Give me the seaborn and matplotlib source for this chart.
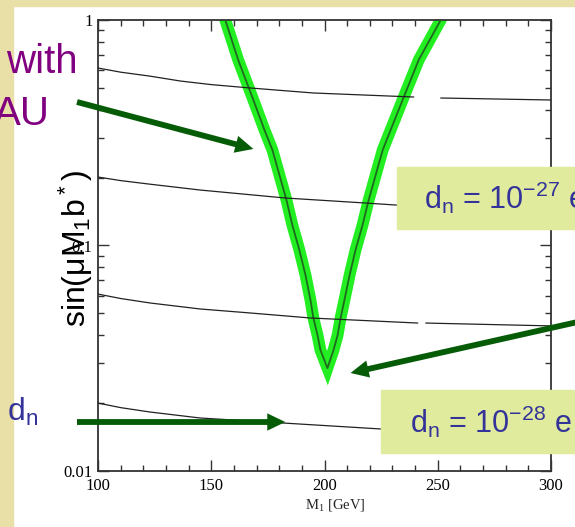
import matplotlib
matplotlib.use("Agg")
import matplotlib.pyplot as plt
import matplotlib.patches as mpatches
from matplotlib.ticker import LogLocator, MultipleLocator, NullFormatter
import seaborn as sns

sns.set_theme(style="ticks")
plt.rcParams["font.family"] = ["Liberation Sans", "DejaVu Sans"]
plt.rcParams["mathtext.default"] = "regular"

# band centre line (sin(mu M1 b*) allowed by EWBG)
band_m = [153.5, 156.2, 161.9, 168.1, 173.5, 177.0, 180.1, 183.2, 185.8, 188.9, 191.6,
          193.8, 195.1, 196.9, 198.2, 201.3, 204.0, 205.8, 207.1, 208.8, 211.1, 213.7,
          216.8, 219.5, 222.6, 225.7, 229.2, 235.0, 241.6, 251.3, 254.5]
band_s = [1.2, 1.0, 0.665, 0.4555, 0.3253, 0.2652, 0.2054, 0.1591, 0.1233, 0.0955, 0.0740,
          0.0573, 0.0477, 0.0401, 0.0344, 0.0286, 0.0344, 0.0401, 0.0477, 0.0573, 0.0740,
          0.0955, 0.1233, 0.1591, 0.2054, 0.2652, 0.3253, 0.4555, 0.665, 1.0, 1.2]

# d_n contours (each drawn in pieces, gaps are where labels sat)
c1a_m = [100, 110.0, 123.0, 136.3, 150.0, 167.3, 195.1, 239.4]
c1a_s = [0.6125, 0.5870, 0.5636, 0.5364, 0.5170, 0.4994, 0.4746, 0.4555]
c1b_m = [251.3, 300]
c1b_s = [0.4509, 0.4418]
c2_m = [100, 110.0, 123.0, 145.1, 182.7, 218.1, 231.4, 300]
c2_s = [0.2012, 0.1940, 0.1870, 0.1762, 0.1624, 0.1543, 0.1512, 0.1437]
c3a_m = [100, 110.0, 123.0, 145.1, 167.3, 193.8, 241.2]
c3a_s = [0.0609, 0.0582, 0.0556, 0.0523, 0.0502, 0.0477, 0.0453]
c3b_m = [244.7, 300]
c3b_s = [0.0453, 0.0440]
c4_m = [100, 110.0, 123.0, 145.1, 181.4, 224.8, 300]
c4_s = [0.02001, 0.01910, 0.01826, 0.01718, 0.01633, 0.01536, 0.01474]

xticks = [100, 150, 200, 250, 300]
yticks = [0.01, 0.1, 1]
ytick_labels = ["0.01", "0.1", "1"]

slide_bg = "#e9e0a8"
box_col = "#e0eb9d"
text_blue = "#333399"
arrow_col = "#065c06"

fig = plt.figure(figsize=(5.75, 5.27), dpi=100)
fig.patch.set_facecolor("white")
# slide background strips
fig.patches.append(mpatches.Rectangle((0, 0), 13 / 575, 1, transform=fig.transFigure,
                                      color=slide_bg, zorder=0))
fig.patches.append(mpatches.Rectangle((0, 1 - 6 / 527), 1, 6 / 527, transform=fig.transFigure,
                                      color=slide_bg, zorder=0))

ax = fig.add_axes([98 / 575, 56 / 527, 453 / 575, 451 / 527])
ax.set_facecolor("white")

sns.lineplot(x=band_m, y=band_s, ax=ax, color="#22ee22", lw=8.5, sort=False, estimator=None,
             solid_joinstyle="miter", solid_capstyle="butt", zorder=2)
sns.lineplot(x=band_m, y=band_s, ax=ax, color="#1f6a1f", lw=1.3, sort=False, estimator=None,
             zorder=3)
for xs, ys in [(c1a_m, c1a_s), (c1b_m, c1b_s), (c2_m, c2_s), (c3a_m, c3a_s),
               (c3b_m, c3b_s), (c4_m, c4_s)]:
    sns.lineplot(x=xs, y=ys, ax=ax, color="#222222", lw=0.9, sort=False, estimator=None,
                 zorder=4)

ax.set_yscale("log")
ax.set_xlim(100, 300)
ax.set_ylim(0.01, 1)
ax.set_xticks(xticks)
ax.set_yticks(yticks, labels=ytick_labels)
ax.xaxis.set_minor_locator(MultipleLocator(10))
ax.yaxis.set_minor_locator(LogLocator(subs=range(2, 10)))
ax.yaxis.set_minor_formatter(NullFormatter())
ax.tick_params(which="both", direction="in", top=True, right=True, color="#333333",
               labelfontfamily="Liberation Serif", labelsize=12, labelcolor="black")
ax.tick_params(which="major", length=8, width=1.0, pad=5)
ax.tick_params(which="minor", length=4.5, width=1.0)
ax.tick_params(axis="y", pad=4)
for sp in ax.spines.values():
    sp.set_color("#333333")
    sp.set_linewidth(1.3)

ax.set_xlabel("M$_1$ [GeV]", family="Liberation Serif", fontsize=10.5, va="center")
ax.xaxis.set_label_coords(0.524, -0.075)
ax.set_ylabel("sin(μM$_1$b$^*$)", fontsize=23, color="black", va="center", ha="center",
              rotation_mode="default")
ax.yaxis.set_label_coords(-0.0487, 0.494)

# arrows from slide annotations
arrow_kw = dict(arrowstyle="simple,head_length=1.3,head_width=1.25,tail_width=0.42",
                mutation_scale=10, color=arrow_col, lw=0, shrinkA=0, shrinkB=0)
ax.annotate("", xy=(168.6, 0.268), xycoords="data", xytext=(77 / 575, 1 - 102 / 527),
            textcoords="figure fraction", arrowprops=arrow_kw, annotation_clip=False, zorder=6)
ax.annotate("", xy=(211.5, 0.0272), xycoords="data", xytext=(1.02, 1 - 320 / 527),
            textcoords="figure fraction", arrowprops=arrow_kw, annotation_clip=False, zorder=6)
ax.annotate("", xy=(182.7, 0.01649), xycoords="data", xytext=(77 / 575, 1 - 422 / 527),
            textcoords="figure fraction", arrowprops=arrow_kw, annotation_clip=False, zorder=6)

# slide text boxes
fig.patches.append(mpatches.Rectangle((397 / 575, 1 - 229 / 527), 0.5, 62 / 527,
                                      transform=fig.transFigure, color=box_col, zorder=5))
fig.patches.append(mpatches.Rectangle((381 / 575, 1 - 453 / 527), 0.5, 63 / 527,
                                      transform=fig.transFigure, color=box_col, zorder=5))
fig.text(424 / 575, 1 - 209 / 527, "d$_n$ = 10$^{-27}$ e cm", color=text_blue, fontsize=22,
         va="baseline", ha="left", zorder=6)
fig.text(410 / 575, 1 - 433 / 527, "d$_n$ = 10$^{-28}$ e cm", color=text_blue, fontsize=22,
         va="baseline", ha="left", zorder=6)

fig.text(78 / 575, 1 - 73 / 527, "with", color="#800080", fontsize=29, ha="right",
         va="baseline", zorder=6)
fig.text(50 / 575, 1 - 125 / 527, "AU", color="#800080", fontsize=29, ha="right",
         va="baseline", zorder=6)
fig.text(7 / 575, 1 - 421 / 527, "d$_n$", color=text_blue, fontsize=23, ha="left",
         va="baseline", zorder=6)

fig.savefig("out.png", dpi=100)
